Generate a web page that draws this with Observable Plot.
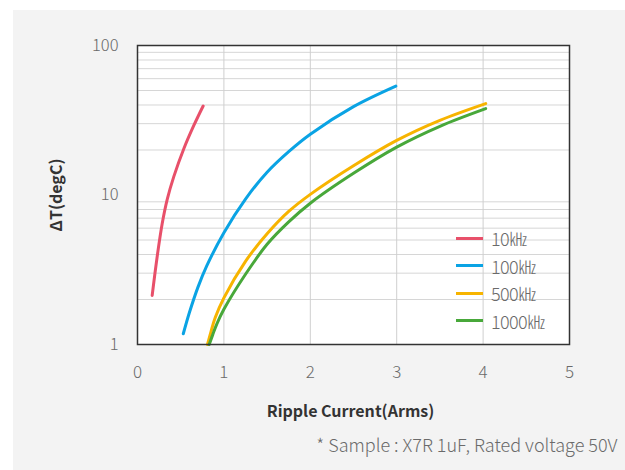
<!DOCTYPE html>
<html>
<head>
<meta charset="utf-8">
<script src="https://cdn.jsdelivr.net/npm/d3@7"></script>
<script src="https://cdn.jsdelivr.net/npm/@observablehq/plot@0.6"></script>
<style>
  body { margin: 0; background: #fff; }
  #wrap { position: relative; width: 625px; height: 470px; overflow: hidden; font-family: "Noto Sans CJK KR", "Noto Sans", sans-serif; }
  #bg { position: absolute; left: 13px; top: 10px; right: 0; bottom: 0; background: #f3f3f3; }
  #chart { position: absolute; left: 0; top: 0; }
  #legend { position: absolute; left: 456px; top: 224.5px; }
  .row { display: flex; align-items: center; height: 27.5px; }
  .sw { width: 27px; height: 3px; margin-right: 8px; }
  .lb { font-size: 18px; color: #6a6a6a; font-weight: 300; letter-spacing: -0.6px; }
</style>
</head>
<body>
<div id="wrap">
  <div id="bg"></div>
  <div id="chart"></div>
  <div id="legend"></div>
</div>
<script>
// ---- data ----
const seriesNames = ["10㎑", "100㎑", "500㎑", "1000㎑"];
const seriesColors = ["#e8506a", "#0aa3e4", "#f7b400", "#48a83a"];

const x10k = [0.17, 0.228, 0.286, 0.344, 0.42, 0.536, 0.652, 0.76];
const y10k = [2.13, 3.88, 6.44, 9.35, 13.27, 20.4, 29.2, 39.4];

const x100k = [0.53, 0.6, 0.7, 0.8, 1.0, 1.25, 1.5, 1.75, 2.0, 2.5, 2.99];
const y100k = [1.18, 1.63, 2.42, 3.34, 5.6, 9.4, 14.2, 19.5, 25.5, 39.0, 53.5];

const x500k = [0.81, 0.85, 0.9, 1.0, 1.25, 1.5, 1.75, 2.0, 2.5, 3.0, 3.5, 4.03];
const y500k = [1.0, 1.216, 1.514, 2.05, 3.6, 5.5, 7.76, 10.1, 15.7, 23.2, 31.6, 40.9];

const x1000k = [0.83, 0.87, 0.92, 1.0, 1.25, 1.5, 1.75, 2.0, 2.5, 3.0, 3.5, 4.03];
const y1000k = [1.0, 1.16, 1.38, 1.72, 2.95, 4.68, 6.61, 8.81, 13.96, 20.9, 28.8, 37.8];

const xTicks = [0, 1, 2, 3, 4, 5];
const yTicks = [1, 10, 100];
const yGrid = [2, 3, 4, 5, 6, 7, 8, 9, 20, 30, 40, 50, 60, 70, 80, 90];
const xGrid = [1, 2, 3, 4];

const xTitle = "Ripple Current(Arms)";
const yTitle = "ΔT(degC)";
const caption = "* Sample : X7R 1uF, Rated voltage 50V";

// ---- table ----
const xs = [x10k, x100k, x500k, x1000k];
const ys = [y10k, y100k, y500k, y1000k];
const rows = seriesNames.flatMap((s, i) => xs[i].map((x, j) => ({series: s, x, y: ys[i][j]})));

const font = '"Noto Sans CJK KR", "Noto Sans", sans-serif';

const chart = Plot.plot({
  width: 625,
  height: 470,
  marginLeft: 137,
  marginRight: 56,
  marginTop: 45,
  marginBottom: 126,
  style: {background: "transparent", fontFamily: font, overflow: "visible"},
  x: {domain: [0, 5]},
  y: {type: "log", domain: [1, 100]},
  color: {domain: seriesNames, range: seriesColors},
  marks: [
    Plot.frame({fill: "white"}),
    Plot.gridY(yGrid, {stroke: "#d6d6d6", strokeOpacity: 1, strokeWidth: 1}),
    Plot.gridX(xGrid, {stroke: "#cfcfcf", strokeOpacity: 1, strokeWidth: 1}),
    Plot.line(rows, {x: "x", y: "y", z: "series", stroke: "series", strokeWidth: 3, curve: "catmull-rom"}),
    Plot.frame({stroke: "#333", strokeWidth: 1.5}),
    Plot.axisX(xTicks, {tickSize: 0, tickPadding: 21, fontSize: 17, fill: "#6a6a6a", fontWeight: 300, label: null}),
    Plot.axisY(yTicks, {tickSize: 0, tickPadding: 19, fontSize: 16.5, fill: "#6a6a6a", fontWeight: 300, label: null, tickFormat: d => String(d)}),
    Plot.text([xTitle], {frameAnchor: "bottom", dx: -3, dy: 67, fontSize: 16, fontWeight: "bold", fill: "#333", lineAnchor: "middle"}),
    Plot.text([yTitle], {frameAnchor: "left", dx: -81, rotate: -90, fontSize: 16, fontWeight: "bold", fill: "#333", textAnchor: "middle", lineAnchor: "middle"}),
    Plot.text([caption], {frameAnchor: "bottom-right", dx: 48, dy: 102, fontSize: 18, fill: "#6a6a6a", fontWeight: 300, textAnchor: "end", lineAnchor: "middle"})
  ]
});
document.getElementById("chart").appendChild(chart);

// legend from same arrays / color scale
const color = chart.scale("color");
const legend = document.getElementById("legend");
seriesNames.forEach((s, i) => {
  const row = document.createElement("div");
  row.className = "row";
  const sw = document.createElement("div");
  sw.className = "sw";
  sw.style.background = color.range[i];
  const lb = document.createElement("div");
  lb.className = "lb";
  lb.textContent = s;
  row.appendChild(sw);
  row.appendChild(lb);
  legend.appendChild(row);
});
</script>
</body>
</html>
